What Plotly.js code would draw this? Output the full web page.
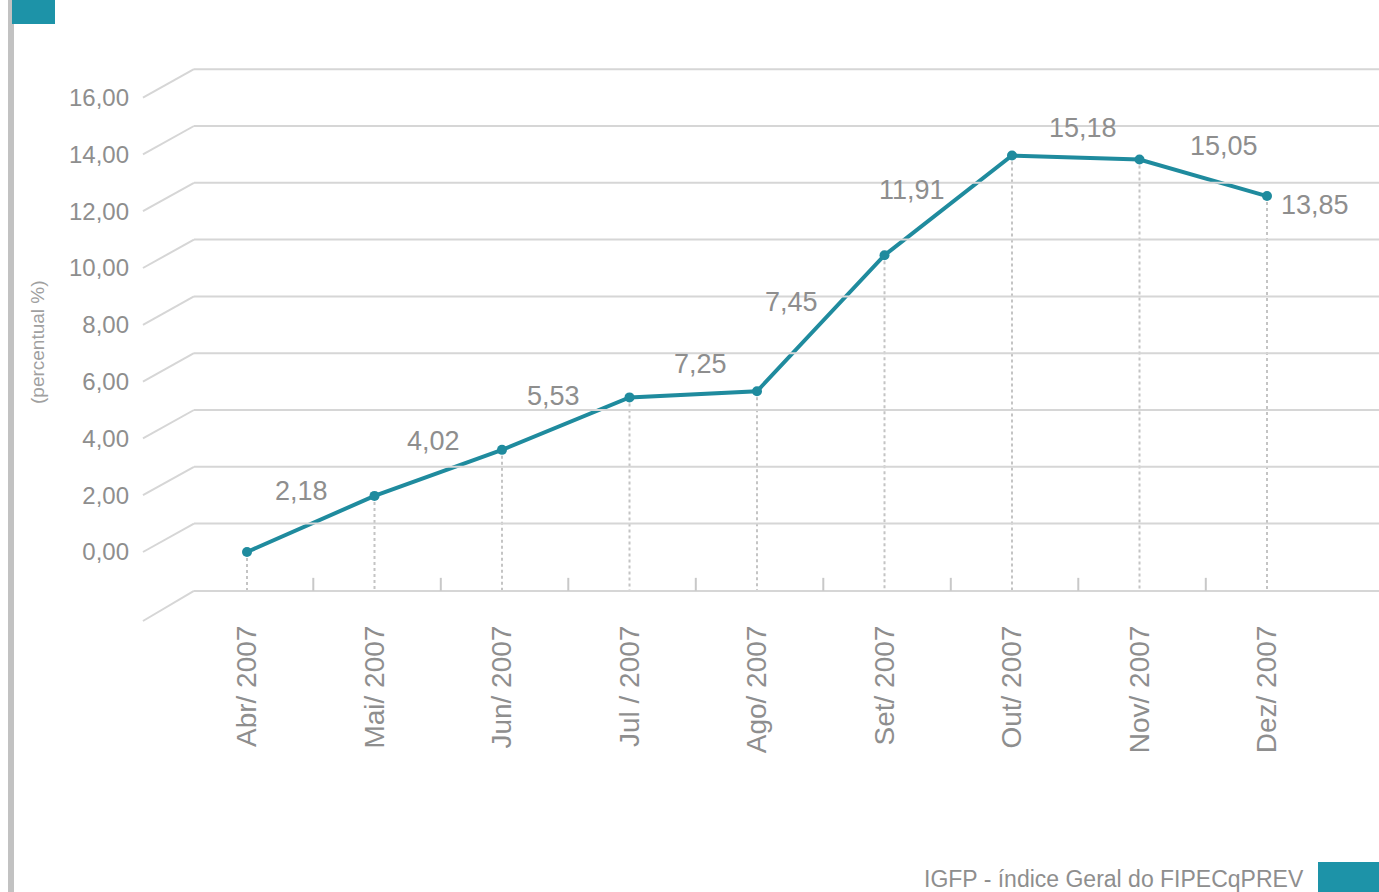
<!DOCTYPE html>
<html>
<head>
<meta charset="utf-8">
<script src="https://cdn.plot.ly/plotly-3.0.1.min.js"></script>
<style>html,body{margin:0;padding:0;background:#fff;}#chart{width:1379px;height:892px;}</style>
</head>
<body>
<div id="chart"></div>
<script>
// ---- data ----
const categories = ["Abr/ 2007","Mai/ 2007","Jun/ 2007","Jul / 2007","Ago/ 2007","Set/ 2007","Out/ 2007","Nov/ 2007","Dez/ 2007"];
const values = [2.18, 4.02, 5.53, 7.25, 7.45, 11.91, 15.18, 15.05, 13.85];
const yTicks = [0, 2, 4, 6, 8, 10, 12, 14, 16];
const yTitle = "(percentual %)";
const footer = "IGFP - índice Geral do FIPECqPREV";

// ---- layout helpers (pixel -> paper) ----
const W = 1379, H = 892;
const M = {l: 140, r: 0, t: 60, b: 267};
const PW = W - M.l - M.r, PH = H - M.t - M.b;
const px = p => (p - M.l) / PW;
const py = p => (H - M.b - p) / PH;

const TEAL = '#1d93a8';
const LINE = '#1f8b9e';
const TXT = '#8e8e8e';
const GRID = '#d6d6d6';
const idx = categories.map((c, i) => i);

// 3D-look parameters (front axis units)
const DEPTH = 1.0;      // back wall is shifted up by this
const FRONT_X = -0.816; // x index of front edge
const BACK_X = -0.416;  // x index of back wall start
const FLOOR = -2.43;    // floor front value
const FLOOR2 = 0.9;     // floor in line scale

const shapes = [];
// wall gridlines: front diagonal + back horizontal
yTicks.forEach(v => {
  shapes.push({type:'line', xref:'x', yref:'y', x0:FRONT_X, y0:v, x1:BACK_X, y1:v+DEPTH, line:{color:GRID, width:2}});
  shapes.push({type:'line', xref:'x', yref:'y', x0:BACK_X, y0:v+DEPTH, x1:9.2, y1:v+DEPTH, line:{color:GRID, width:2}});
});
// floor
shapes.push({type:'line', xref:'x', yref:'y', x0:FRONT_X, y0:FLOOR, x1:BACK_X, y1:FLOOR+1.06, line:{color:GRID, width:2}});
shapes.push({type:'line', xref:'x', yref:'y', x0:BACK_X, y0:FLOOR+1.06, x1:9.2, y1:FLOOR+1.06, line:{color:GRID, width:2}});
// floor tick marks between categories
for (let i = 0; i < categories.length - 1; i++) {
  shapes.push({type:'line', xref:'x', yref:'y', x0:i+0.52, x1:i+0.52, y0:FLOOR+1.06, y1:FLOOR+1.06+0.46, line:{color:'#c8c8c8', width:2}});
}
// dotted drop lines
values.forEach((v, i) => {
  shapes.push({type:'line', xref:'x', yref:'y2', x0:i, x1:i, y0:v, y1:FLOOR2, line:{color:'#c4c4c4', width:2, dash:'dot'}, layer:'below'});
});
// decorations
shapes.push({type:'rect', xref:'paper', yref:'paper', x0:px(8), x1:px(14), y0:py(H), y1:py(0), fillcolor:'#c2c2c2', line:{width:0}});
shapes.push({type:'rect', xref:'paper', yref:'paper', x0:px(12), x1:px(55), y0:py(24), y1:py(0), fillcolor:TEAL, line:{width:0}});
shapes.push({type:'rect', xref:'paper', yref:'paper', x0:px(1318), x1:px(W), y0:py(H), y1:py(862), fillcolor:TEAL, line:{width:0}});

// data label nudges (pixels) to mimic original label placement
const nudgeX = [54, 59, 51, 71, 34, 27, 71, 84, 48];
const nudgeY = [-1, -3, -1, -18, 38, 24, -7, -21, -46];

const annotations = values.map((v, i) => ({
  x: i, y: v, xref:'x', yref:'y', text: v.toFixed(2).replace('.', ','),
  showarrow:false, xshift:nudgeX[i], yshift:nudgeY[i],
  font:{family:'Liberation Sans, Arial, sans-serif', size:27, color:TXT}
}));
annotations.push({xref:'paper', yref:'paper', x:px(37), y:py(342), xanchor:'center', yanchor:'middle', text:yTitle, textangle:-90, showarrow:false,
  font:{family:'Liberation Sans, Arial, sans-serif', size:19, color:'#a0a0a0'}});
annotations.push({xref:'paper', yref:'paper', x:px(1306), y:py(879), xanchor:'right', yanchor:'middle', text:footer, showarrow:false,
  font:{family:'Liberation Sans, Arial, sans-serif', size:23, color:TXT}});

const trace = {
  x: idx, y: values, yaxis:'y2', type:'scatter', mode:'lines+markers',
  line:{color:LINE, width:4}, marker:{color:LINE, size:10},
  hoverinfo:'skip', cliponaxis:false
};

const layout = {
  width: W, height: H,
  margin: M,
  paper_bgcolor:'#fff', plot_bgcolor:'rgba(0,0,0,0)',
  separators: ',.',
  showlegend:false,
  xaxis:{
    range:[(M.l-247)/127.5, (W-247)/127.5],
    tickvals: idx, ticktext: categories, tickangle:-90,
    showgrid:false, zeroline:false, showline:false, ticks:'',
    tickfont:{family:'Liberation Sans, Arial, sans-serif', size:28, color:TXT},
    ticklabelstandoff: -6
  },
  yaxis:{
    range:[(552-(H-M.b))/28.4, (552-M.t)/28.4],
    tickvals: yTicks, tickformat:'.2f',
    showgrid:false, zeroline:false, showline:false, ticks:'',
    tickfont:{family:'Liberation Sans, Arial, sans-serif', size:24, color:TXT},
    ticklabelstandoff: 10
  },
  yaxis2:{
    range:[(618.5-(H-M.b))/30.5, (618.5-M.t)/30.5],
    overlaying:'y', visible:false, showgrid:false, zeroline:false
  },
  shapes: shapes,
  annotations: annotations
};

Plotly.newPlot('chart', [trace], layout, {displayModeBar:false, staticPlot:true});
</script>
</body>
</html>
